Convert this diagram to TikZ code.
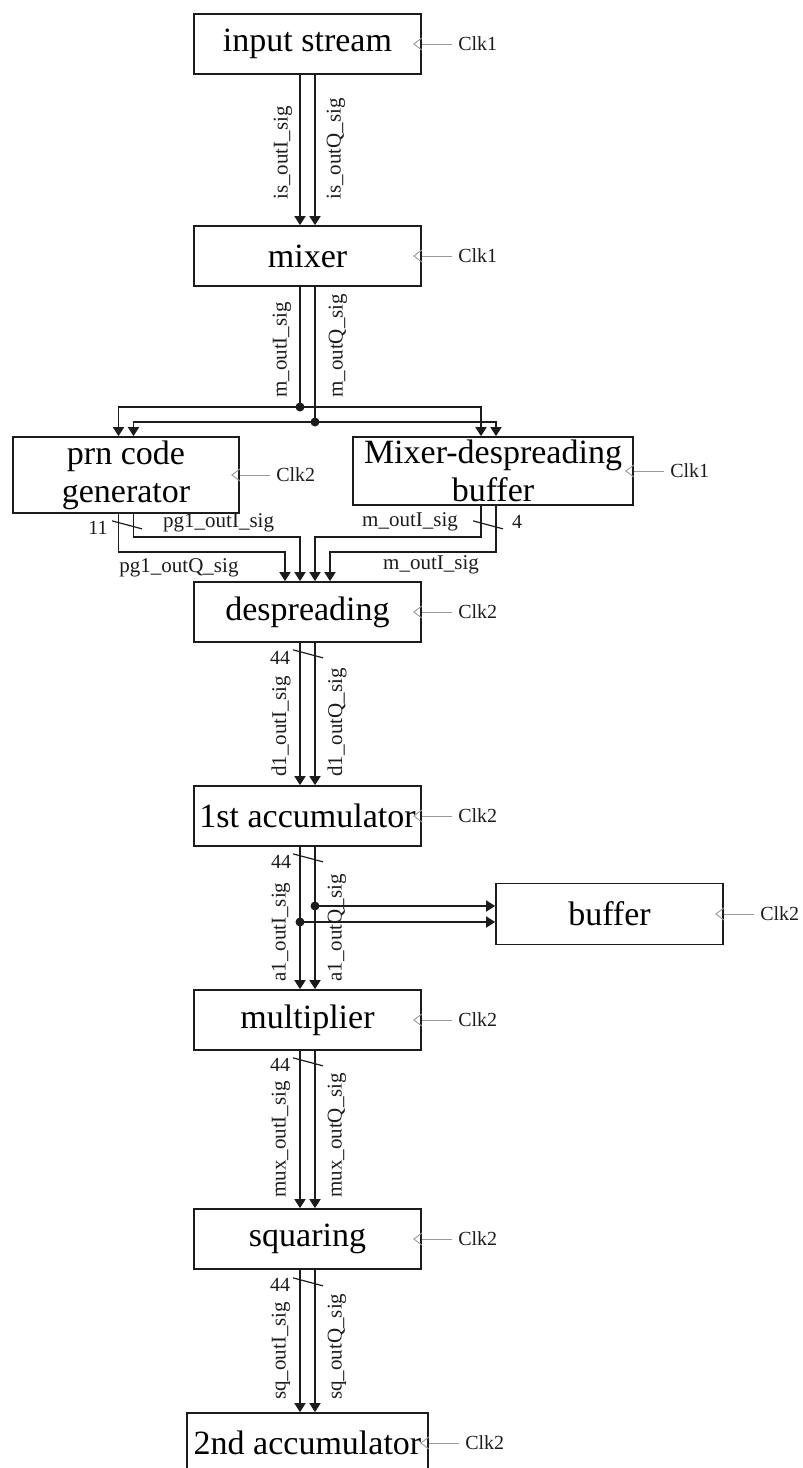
\documentclass[tikz,border=0pt]{standalone}
\usepackage{fontspec}
\setmainfont{Liberation Serif}
\usetikzlibrary{arrows.meta}
\definecolor{linec}{HTML}{1C1C1C}
\definecolor{clkc}{HTML}{9A9A9A}

% clock input: open chevron on the right edge of a block, a short lead and its label
\newcommand\clkpin[3]{%
  \draw[clk] (#1.east) ++(0,-6) -- ++(-8,6) -- ++(8,6);
  \draw[clk] (#1.east) -- ++(30,0) node[clklbl] (#3) {#2};
}

\begin{document}
\begin{tikzpicture}[x=1pt,y=-1pt,
  blk/.style={draw=linec, line width=1.7pt, inner sep=0pt, minimum width=227pt,
    minimum height=60pt, font=\fontsize{34}{38}\selectfont, align=center},
  bus/.style={draw=linec, line width=1.7pt},
  arr/.style={bus, -{Triangle[length=9pt,width=11pt]}},
  tick/.style={draw=linec, line width=1.2pt},
  sig/.style={font=\fontsize{21}{24}\selectfont, inner sep=0pt, text=linec},
  vsig/.style={sig, rotate=90, anchor=west},
  wnum/.style={font=\fontsize{20}{22}\selectfont, inner sep=0pt, text=linec},
  clk/.style={draw=clkc, line width=0.9pt},
  clklbl/.style={anchor=west, inner sep=0pt, xshift=6pt, font=\fontsize{20}{22}\selectfont, text=linec},
  dot/.style={circle, fill=linec, inner sep=0pt, minimum size=9pt},
]
\useasboundingbox (0,0) rectangle (803,1468);
\clip (0,0) rectangle (803,1468);

% blocks
\node[blk] (inp)  at (307.5,44)   {input stream};
\node[blk] (mix)  at (307.5,256)  {mixer};
\node[blk, minimum width=226pt, minimum height=76pt] (prn) at (126,475) {prn code\\generator};
\node[blk, minimum width=280pt, minimum height=68pt] (mdb) at (493,471) {Mixer-despreading\\buffer};
\node[blk] (desp) at (307.5,612)  {despreading};
\node[blk] (acc1) at (307.5,816)  {1st accumulator};
\node[blk, minimum height=61pt] (buf) at (609.5,914) {buffer};
\node[blk] (mult) at (307.5,1020) {multiplier};
\node[blk] (sq)   at (307.5,1239) {squaring};
\node[blk, minimum width=241pt] (acc2) at (307.5,1443) {2nd accumulator};

% clocks
\clkpin{inp}{Clk1}{k1}
\clkpin{mix}{Clk1}{k2}
\clkpin{prn}{Clk2}{k3}
\clkpin{mdb}{Clk1}{k4}
\clkpin{desp}{Clk2}{k5}
\clkpin{acc1}{Clk2}{k6}
\clkpin{buf}{Clk2}{k7}
\clkpin{mult}{Clk2}{k8}
\clkpin{sq}{Clk2}{k9}
\clkpin{acc2}{Clk2}{k10}

% input stream -> mixer
\draw[arr] ([xshift=-7.5pt]inp.south) -- ([xshift=-7.5pt]mix.north);
\draw[arr] ([xshift=7.5pt]inp.south) -- ([xshift=7.5pt]mix.north);
\node[vsig] (s1) at (283,200) {is\_outI\_sig};
\node[vsig] (s2) at (336,200) {is\_outQ\_sig};

% mixer fan-out
\coordinate (jI) at (300,407);
\coordinate (jQ) at (315,422);
\draw[bus] ([xshift=-7.5pt]mix.south) -- (jI);
\draw[bus] ([xshift=7.5pt]mix.south) -- (jQ);
\draw[arr] (jI) -| ([xshift=-7.5pt]prn.north);
\draw[arr] (jI) -| ([xshift=-12pt]mdb.north);
\draw[arr] (jQ) -| ([xshift=7.5pt]prn.north);
\draw[arr] (jQ) -| ([xshift=3pt]mdb.north);
\node[dot] (dI) at (jI) {};
\node[dot] (dQ) at (jQ) {};
\node[vsig] (s3) at (282,398) {m\_outI\_sig};
\node[vsig] (s4) at (338,398) {m\_outQ\_sig};

% prn generator and buffer -> despreading
\draw[arr] ([xshift=-7.5pt]prn.south) -- ++(0,38) -| ([xshift=-22.5pt]desp.north);
\draw[arr] ([xshift=7.5pt]prn.south) -- ++(0,23) -| ([xshift=-7.5pt]desp.north);
\draw[arr] ([xshift=-12pt]mdb.south) -- ++(0,31) -| ([xshift=7.5pt]desp.north);
\draw[arr] ([xshift=3pt]mdb.south) -- ++(0,46) -| ([xshift=22.5pt]desp.north);
\draw[tick] ([shift={(-14,7)}]prn.south) -- ++(30,8);
\node[wnum] (w1) at (98,528) {11};
\draw[tick] ([shift={(-20,15)}]mdb.south) -- ++(30,8);
\node[wnum] (w2) at (517,522) {4};
\node[sig, anchor=west] (s5) at (163,523) {pg1\_outI\_sig};
\node[sig] (s6) at (179,568) {pg1\_outQ\_sig};
\node[sig] (s7) at (410,522) {m\_outI\_sig};
\node[sig] (s8) at (431,565) {m\_outI\_sig};

% despreading -> 1st accumulator
\draw[arr] ([xshift=-7.5pt]desp.south) -- ([xshift=-7.5pt]acc1.north);
\draw[arr] ([xshift=7.5pt]desp.south) -- ([xshift=7.5pt]acc1.north);
\draw[tick] ([shift={(-14.5,7)}]desp.south) -- ++(30,8);
\node[wnum] (w3) at (280,658) {44};
\node[vsig] (s9)  at (281,777) {d1\_outI\_sig};
\node[vsig] (s10) at (337,777) {d1\_outQ\_sig};

% 1st accumulator -> multiplier, tapped to buffer
\draw[arr] ([xshift=-7.5pt]acc1.south) -- ([xshift=-7.5pt]mult.north);
\draw[arr] ([xshift=7.5pt]acc1.south) -- ([xshift=7.5pt]mult.north);
\coordinate (tQ) at (315,906);
\coordinate (tI) at (300,922);
\draw[arr] (tQ) -- (tQ -| buf.west);
\draw[arr] (tI) -- (tI -| buf.west);
\node[dot] (dA) at (tQ) {};
\node[dot] (dB) at (tI) {};
\draw[tick] ([shift={(-14.5,7)}]acc1.south) -- ++(30,8);
\node[wnum] (w4) at (281,862) {44};
\node[vsig] (s11) at (281,982) {a1\_outI\_sig};
\node[vsig] (s12) at (337,982) {a1\_outQ\_sig};

% multiplier -> squaring
\draw[arr] ([xshift=-7.5pt]mult.south) -- ([xshift=-7.5pt]sq.north);
\draw[arr] ([xshift=7.5pt]mult.south) -- ([xshift=7.5pt]sq.north);
\draw[tick] ([shift={(-14.5,7)}]mult.south) -- ++(30,8);
\node[wnum] (w5) at (280,1065) {44};
\node[vsig] (s13) at (281,1198) {mux\_outI\_sig};
\node[vsig] (s14) at (337,1198) {mux\_outQ\_sig};

% squaring -> 2nd accumulator
\draw[arr] ([xshift=-7.5pt]sq.south) -- ([xshift=-7.5pt]acc2.north);
\draw[arr] ([xshift=7.5pt]sq.south) -- ([xshift=7.5pt]acc2.north);
\draw[tick] ([shift={(-14.5,8)}]sq.south) -- ++(30,8);
\node[wnum] (w6) at (280,1285) {44};
\node[vsig] (s15) at (281,1400) {sq\_outI\_sig};
\node[vsig] (s16) at (337,1400) {sq\_outQ\_sig};
\end{tikzpicture}
\end{document}
